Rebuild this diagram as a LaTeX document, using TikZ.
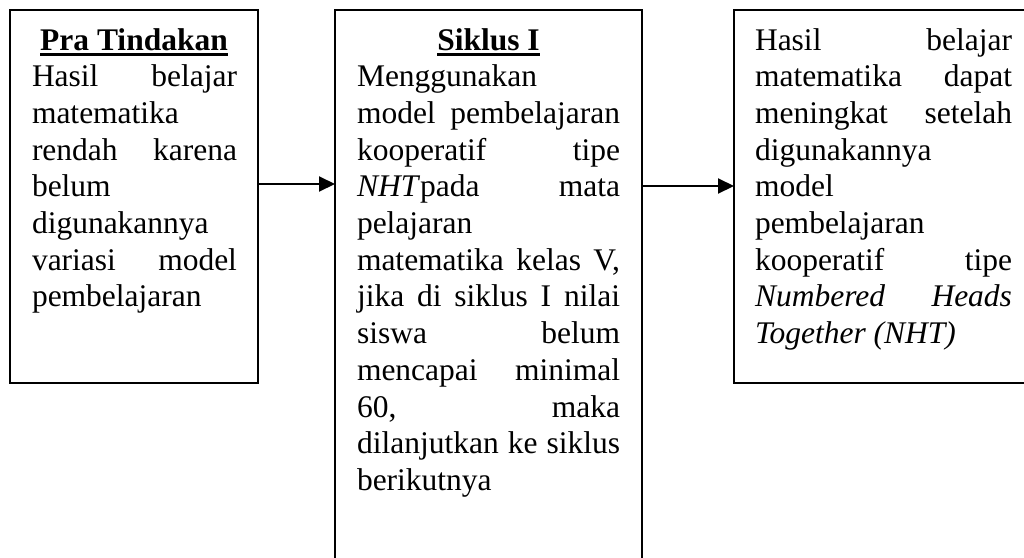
\documentclass[tikz,border=0pt]{standalone}
\usepackage{fontspec}
\setmainfont{Liberation Serif}
\usetikzlibrary{arrows.meta}
\newsavebox\ulbx
\newcommand\ultitle[1]{\sbox\ulbx{\bfseries #1}\rlap{\rule[-6pt]{\wd\ulbx}{2.6pt}}\usebox\ulbx}
\newcommand\jl[2]{\hbox to #1{#2}}
\begin{document}
\begin{tikzpicture}[x=1pt,y=-1pt,
  box/.style={draw, line width=2pt, rectangle, inner sep=0pt, outer sep=0pt},
  txt/.style={inner sep=0pt, outer sep=0pt, align=left, anchor=north west, font={\fontsize{31.5}{36.7}\selectfont}},
  ttl/.style={inner sep=0pt, outer sep=0pt, anchor=base, font={\fontsize{31.5}{36.7}\selectfont}},
  arr/.style={line width=2pt, -{Triangle[length=16pt,width=15pt]}}]
\useasboundingbox (0,0) rectangle (1024,557);
% boxes
\node[box, minimum width=248pt, minimum height=373pt] (b1) at (134,196.5) {};
\node[box, minimum width=307pt, minimum height=590pt] (b2) at (488.5,305) {};
\node[box, minimum width=366pt, minimum height=373pt] (b3) at (917,196.5) {};
% arrows
\coordinate (y1) at (0,184);
\coordinate (y2) at (0,186);
\draw[arr] (b1.east |- y1) -- (b2.west |- y1);
\draw[arr] (b2.east |- y2) -- (b3.west |- y2);
% box 1
\node[ttl] (t1) at (134,50) {\ultitle{Pra Tindakan}};
\node[txt] (x1) at (32,61.7) {\rule{0pt}{25pt}\jl{205pt}{Hasil\hfill belajar}\\
matematika\\
\jl{205pt}{rendah\hfill karena}\\
belum\\
digunakannya\\
\jl{205pt}{variasi\hfill model}\\
pembelajaran};
% box 2
\node[ttl] (t2) at (488.5,50) {\ultitle{Siklus I}};
\node[txt] (x2) at (357,61.7) {\rule{0pt}{25pt}Menggunakan\\
\jl{263pt}{model\hfill pembelajaran}\\
\jl{263pt}{kooperatif\hfill tipe}\\
\jl{263pt}{\textit{NHT}pada\hfill mata}\\
pelajaran\\
\jl{263pt}{matematika\hfill kelas\hfill V,}\\
\jl{263pt}{jika\hfill di\hfill siklus\hfill I\hfill nilai}\\
\jl{263pt}{siswa\hfill belum}\\
\jl{263pt}{mencapai\hfill minimal}\\
\jl{263pt}{60,\hfill maka}\\
\jl{263pt}{dilanjutkan\hfill ke\hfill siklus}\\
berikutnya};
% box 3
\node[txt] (x3) at (755,25) {\rule{0pt}{25pt}\jl{257pt}{Hasil\hfill belajar}\\
\jl{257pt}{matematika\hfill dapat}\\
\jl{257pt}{meningkat\hfill setelah}\\
digunakannya\\
model\\
pembelajaran\\
\jl{257pt}{kooperatif\hfill tipe}\\
\jl{257pt}{\textit{Numbered}\hfill\textit{Heads}}\\
\textit{Together (NHT)}};
\end{tikzpicture}
\end{document}
